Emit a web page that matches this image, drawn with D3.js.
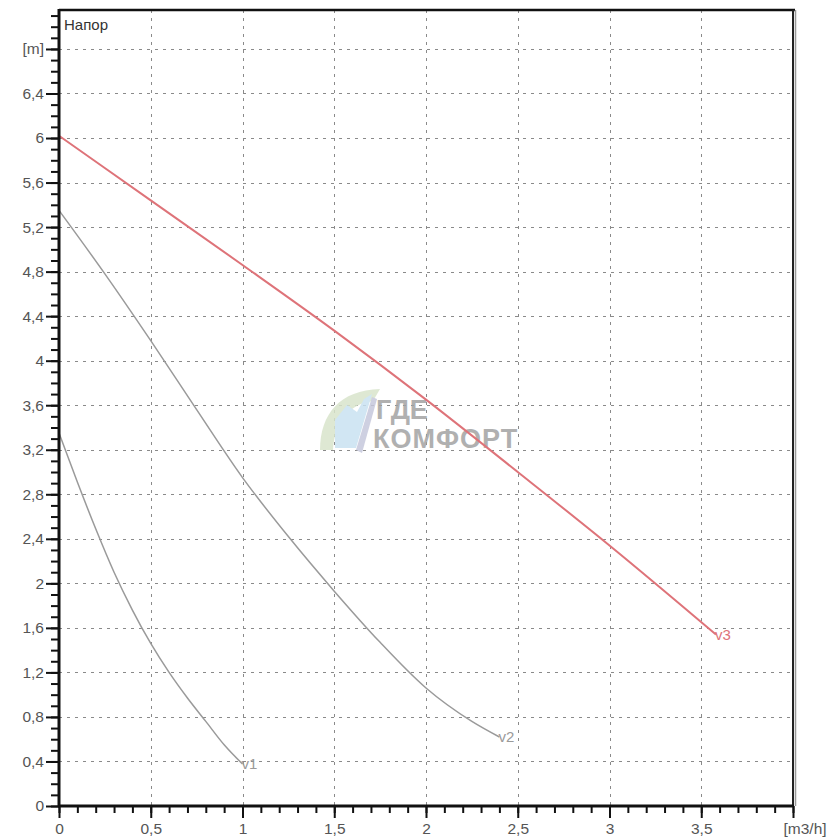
<!DOCTYPE html>
<html>
<head>
<meta charset="utf-8">
<script src="https://cdn.jsdelivr.net/npm/d3@7"></script>
<style>
  html, body { margin: 0; padding: 0; background: #fff; }
  svg { display: block; font-family: Arial, "Liberation Sans", sans-serif; }
</style>
</head>
<body>
<svg id="chart" width="840" height="840"></svg>
<script>
// ---- data ----
const yTitle = "Напор";
const yUnit = "[m]";
const xUnit = "[m3/h]";
const xMajorTicks = [0, 0.5, 1, 1.5, 2, 2.5, 3, 3.5, 4];
const yMajorTicks = [0, 0.4, 0.8, 1.2, 1.6, 2, 2.4, 2.8, 3.2, 3.6, 4, 4.4, 4.8, 5.2, 5.6, 6, 6.4, 6.8];
const seriesNames = ["v1", "v2", "v3"];
const v1Q = [0, 0.1, 0.2, 0.3, 0.4, 0.5, 0.6, 0.7, 0.8, 0.9, 1.0];
const v1H = [3.35, 2.91, 2.49, 2.10, 1.76, 1.46, 1.20, 0.97, 0.76, 0.55, 0.377];
const v2Q = [0, 0.25, 0.5, 0.75, 1.0, 1.25, 1.5, 1.75, 2.0, 2.25, 2.4];
const v2H = [5.35, 4.78, 4.18, 3.56, 2.95, 2.42, 1.93, 1.47, 1.06, 0.76, 0.62];
const v3Q = [0, 0.5, 1.0, 1.5, 2.0, 2.5, 3.0, 3.58];
const v3H = [6.02, 5.44, 4.86, 4.27, 3.65, 3.0, 2.34, 1.54];
const seriesColors = ["#9a9a9a", "#9a9a9a", "#de7379"];

// ---- layout ----
const svg = d3.select("#chart");
const L = 59, R = 793, T = 10, B = 806;
const x = d3.scaleLinear().domain([0, 4]).range([L, R]);
const y = d3.scaleLinear().domain([0, 7.15]).range([B, T]);
const fmt = v => String(v).replace(".", ",");
const FONT = "Arial, 'Liberation Sans', sans-serif";

// grid
const grid = svg.append("g").attr("stroke", "#8a8a8a").attr("stroke-width", 1).attr("stroke-dasharray", "3,5");
grid.selectAll("line.v").data(xMajorTicks.filter(v => v > 0 && v < 4)).join("line")
  .attr("x1", d => Math.round(x(d)) + 0.5).attr("x2", d => Math.round(x(d)) + 0.5)
  .attr("y1", T).attr("y2", B);
grid.selectAll("line.h").data(yMajorTicks.filter(v => v > 0)).join("line")
  .attr("y1", d => Math.round(y(d)) + 0.5).attr("y2", d => Math.round(y(d)) + 0.5)
  .attr("x1", L).attr("x2", R);

// watermark
const wm = svg.append("g").attr("opacity", 0.85);
wm.append("path").attr("d", "M320,450 C320,414 340,390 380,389 L373,401 C350,404 335,420 333,450 Z").attr("fill", "#d9e5cc");
wm.append("path").attr("d", "M335,448 L335,420 L347,405 L357,412 L364,399 L372,394 L356,448 Z").attr("fill", "#c9e2f1");
wm.append("path").attr("d", "M356,450 L372,397 L377,399 L362,453 Z").attr("fill", "#c6c8dc");
wm.append("text").attr("x", 376).attr("y", 419).attr("font-size", 27).attr("font-weight", "bold")
  .attr("fill", "#a3a3a3").text("ГДЕ");
wm.append("text").attr("x", 373).attr("y", 448).attr("font-size", 27).attr("font-weight", "bold")
  .attr("fill", "#a3a3a3").attr("letter-spacing", 1).text("КОМФОРТ");

// curves
const qs = [v1Q, v2Q, v3Q], hs = [v1H, v2H, v3H];
const line = d3.line().x(d => x(d[0])).y(d => y(d[1])).curve(d3.curveMonotoneX);
seriesNames.forEach((name, i) => {
  const pts = qs[i].map((q, j) => [q, hs[i][j]]);
  svg.append("path").datum(pts).attr("d", line).attr("fill", "none")
    .attr("stroke", seriesColors[i]).attr("stroke-width", i === 2 ? 2 : 1.5);
  const last = pts[pts.length - 1];
  svg.append("text").attr("x", x(last[0]) - 1).attr("y", y(last[1]) + 5)
    .attr("font-size", 15).attr("fill", seriesColors[i]).text(name);
});

// frame
svg.append("line").attr("x1", L).attr("x2", R + 2).attr("y1", T).attr("y2", T).attr("stroke", "#111").attr("stroke-width", 2.5);
svg.append("line").attr("x1", R).attr("x2", R).attr("y1", T).attr("y2", B).attr("stroke", "#222").attr("stroke-width", 2);
svg.append("line").attr("x1", R + 2.5).attr("x2", R + 2.5).attr("y1", T).attr("y2", B).attr("stroke", "#999").attr("stroke-width", 1.5);

// axes
const yMinor = d3.range(0, 72).map(i => i / 10);
const xMinor = d3.range(0, 41).map(i => i / 10);
const yAxisMinor = d3.axisLeft(y).tickValues(yMinor).tickSize(8).tickFormat("");
const xAxisMinor = d3.axisBottom(x).tickValues(xMinor).tickSize(7).tickFormat("");
const yAxis = d3.axisLeft(y).tickValues(yMajorTicks).tickSize(13).tickPadding(2)
  .tickFormat(d => d === 6.8 ? yUnit : fmt(d));
const xAxis = d3.axisBottom(x).tickValues(xMajorTicks).tickSize(12).tickPadding(5)
  .tickFormat(d => d === 4 ? xUnit : fmt(d));

function styleAxis(g) {
  g.select(".domain").remove();
  g.selectAll(".tick line").attr("stroke", "#111").attr("stroke-width", 2);
  g.selectAll(".tick text").attr("fill", "#555").attr("font-size", 15.5).attr("font-family", FONT);
}
svg.append("g").attr("transform", `translate(${L},0)`).call(yAxisMinor).call(styleAxis);
svg.append("g").attr("transform", `translate(0,${B})`).call(xAxisMinor).call(styleAxis);
svg.append("g").attr("transform", `translate(${L},0)`).call(yAxis).call(styleAxis);
const xg = svg.append("g").attr("transform", `translate(0,${B})`).call(xAxis).call(styleAxis);
xg.selectAll(".tick text").filter(d => d === 4).attr("text-anchor", "start").attr("dx", -10);

svg.append("line").attr("x1", L).attr("x2", L).attr("y1", T - 1).attr("y2", B + 1).attr("stroke", "#111").attr("stroke-width", 3);
svg.append("line").attr("x1", L - 1).attr("x2", R + 1).attr("y1", B).attr("y2", B).attr("stroke", "#111").attr("stroke-width", 3);

// title
svg.append("text").attr("x", 64).attr("y", 30).attr("font-size", 15).attr("fill", "#333").attr("font-family", FONT).text(yTitle);
</script>
</body>
</html>
